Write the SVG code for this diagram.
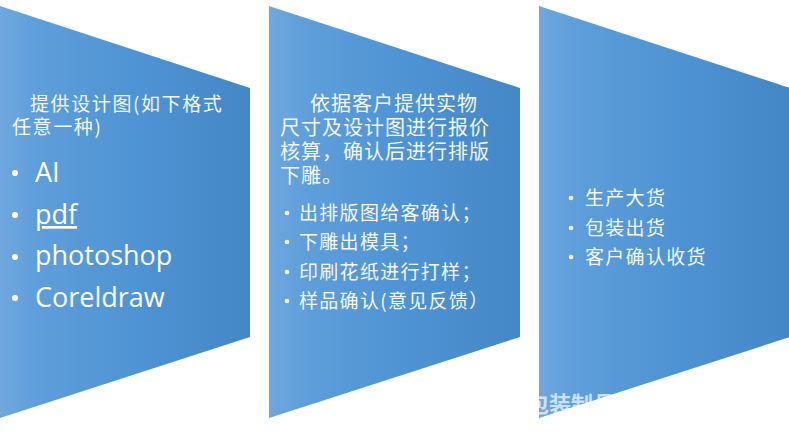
<svg xmlns="http://www.w3.org/2000/svg" width="789" height="446" viewBox="0 0 789 446">
<defs>
<linearGradient id="g" x1="0" y1="0" x2="1" y2="0">
<stop offset="0" stop-color="#70a7de"/>
<stop offset="0.15" stop-color="#5e9eda"/>
<stop offset="0.55" stop-color="#4e93d3"/>
<stop offset="1" stop-color="#4487c7"/>
</linearGradient>
</defs>
<style>
.shape{fill:url(#g)}
.cn{font-family:"Noto Sans CJK SC","Noto Sans",sans-serif;fill:#f4f8fc;font-size:19px;letter-spacing:1.6px}
.cn2{font-family:"Noto Sans CJK SC","Noto Sans",sans-serif;fill:#f4f8fc;font-size:20px;letter-spacing:1px}
.cb{font-family:"Noto Sans CJK SC","Noto Sans",sans-serif;fill:#f4f8fc;font-size:19px;letter-spacing:1.3px}
.en{font-family:"Open Sans","Noto Sans",sans-serif;fill:#ffffff;font-size:27px}
.dL{fill:#ffffff}
.dS{fill:#f4f8fc}
.wm{font-family:"Noto Sans CJK SC",sans-serif;font-weight:bold;font-size:22px;fill:#ffffff;fill-opacity:0.7}
</style>
<g id="node1">
<polygon class="shape" points="0,6 250,88 250,337 0,418"/>
<text class="cn"><tspan x="30" y="111">提供设计图(如下格式</tspan><tspan x="12" y="134">任意一种)</tspan></text>
<circle class="dL" cx="15" cy="173" r="3"/>
<circle class="dL" cx="15" cy="215" r="3"/>
<circle class="dL" cx="15" cy="257" r="3"/>
<circle class="dL" cx="15" cy="298" r="3"/>
<text class="en"><tspan x="35" y="182">AI</tspan><tspan x="35" y="224" text-decoration="underline">pdf</tspan><tspan x="35" y="265">photoshop</tspan><tspan x="35" y="307">Coreldraw</tspan></text>
</g>
<g id="node2">
<polygon class="shape" points="269,6 520,88 520,337 269,418"/>
<text class="cn2"><tspan x="310" y="111">依据客户提供实物</tspan><tspan x="280" y="135">尺寸及设计图进行报价</tspan><tspan x="280" y="159">核算，确认后进行排版</tspan><tspan x="280" y="183">下雕。</tspan></text>
<circle class="dS" cx="287" cy="213" r="2.3"/>
<circle class="dS" cx="287" cy="242" r="2.3"/>
<circle class="dS" cx="287" cy="272" r="2.3"/>
<circle class="dS" cx="287" cy="301" r="2.3"/>
<text class="cb"><tspan x="299" y="220">出排版图给客确认；</tspan><tspan x="299" y="249">下雕出模具；</tspan><tspan x="299" y="279">印刷花纸进行打样；</tspan><tspan x="299" y="308">样品确认(意见反馈）</tspan></text>
</g>
<g id="node3">
<polygon class="shape" points="539,6 790,88 790,337 539,418"/>
<circle class="dS" cx="571" cy="198" r="2.3"/>
<circle class="dS" cx="571" cy="228" r="2.3"/>
<circle class="dS" cx="571" cy="257" r="2.3"/>
<text class="cb"><tspan x="585" y="205">生产大货</tspan><tspan x="585" y="235">包装出货</tspan><tspan x="585" y="264">客户确认收货</tspan></text>
</g>
<g id="watermark">
<text class="wm" x="527" y="412">包装制品</text>
</g>
</svg>
